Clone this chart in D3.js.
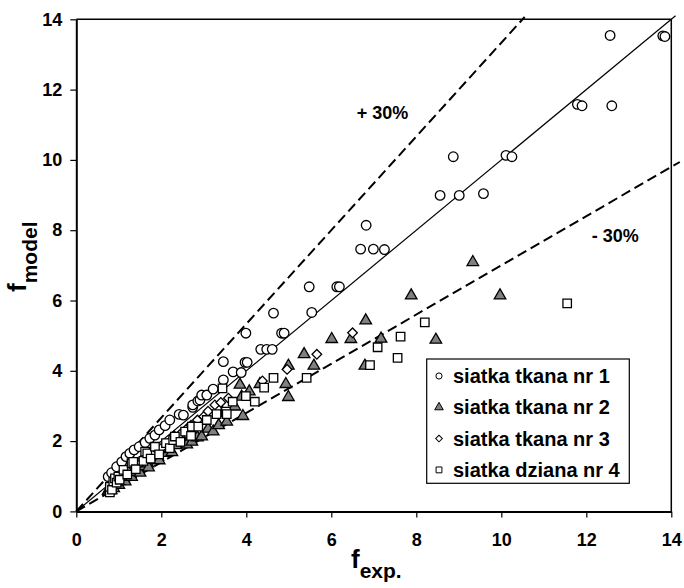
<!DOCTYPE html>
<html>
<head>
<meta charset="utf-8">
<script src="https://cdn.jsdelivr.net/npm/d3@7/dist/d3.min.js"></script>
<style>
  html, body { margin: 0; padding: 0; background: #fff; }
  svg { display: block; font-family: "Liberation Sans", Arial, sans-serif; font-weight: bold; }
</style>
</head>
<body>
<svg id="chart" width="684" height="588"></svg>
<script>
// Measured friction factor: experiment (x) vs. model (y), four mesh types
const tkana1 = [
  [0.75,0.99],[0.83,1.10],[0.95,1.27],[1.07,1.41],[1.17,1.56],[1.26,1.65],[1.36,1.75],
  [1.48,1.84],[1.62,1.96],[1.73,2.08],[1.85,2.17],[1.95,2.32],[2.09,2.44],[2.20,2.60],
  [2.42,2.76],[2.52,2.74],[2.74,2.96],[2.74,3.03],[2.86,3.14],[2.91,3.17],[2.95,3.31],
  [3.07,3.31],[3.22,3.48],[3.46,3.74],[3.46,4.26],[3.69,3.97],[3.88,3.95],[3.97,4.24],
  [4.02,4.24],[3.99,5.07],[4.34,4.61],[4.48,4.61],[4.61,4.61],[4.64,5.64],[4.83,5.07],
  [4.89,5.07],[5.48,6.39],[5.54,5.66],[6.13,6.39],[6.19,6.39],[6.69,7.46],[6.82,8.14],
  [6.99,7.46],[7.25,7.45],[8.56,8.99],[8.87,10.09],[9.01,8.99],[9.58,9.04],[10.11,10.13],
  [10.25,10.09],[11.79,11.58],[11.90,11.54],[12.56,13.54],[12.60,11.54],[13.80,13.53],[13.85,13.51]
];
const tkana2 = [
  [0.75,0.58],[0.78,0.63],[0.80,0.68],[0.82,0.60],[0.85,0.72],[0.88,0.66],[0.90,0.76],
  [0.95,0.80],[1.00,0.75],[1.02,0.86],[1.10,0.92],[1.15,0.85],[1.18,0.98],[1.27,1.05],
  [1.30,0.98],[1.36,1.12],[1.46,1.20],[1.50,1.10],[1.56,1.28],[1.68,1.36],[1.70,1.25],
  [1.80,1.46],[1.92,1.55],[1.95,1.45],[2.06,1.66],[2.20,1.77],[2.25,1.68],[2.35,1.88],
  [2.52,2.00],[2.60,1.90],[2.72,1.98],[2.85,2.10],[2.95,2.13],[3.10,2.35],[3.22,2.27],
  [3.35,2.45],[3.44,2.79],[3.54,2.55],[3.73,2.98],[3.85,3.60],[3.89,3.26],[3.92,2.71],
  [4.07,3.41],[4.32,3.62],[4.93,3.62],[4.99,3.25],[4.99,4.14],[5.36,4.47],[5.59,4.14],
  [6.01,4.90],[6.46,4.90],[6.79,4.14],[6.81,5.43],[7.17,4.91],[7.88,6.14],[8.46,4.88],
  [9.33,7.09],[9.97,6.14]
];
const tkana3 = [
  [0.80,0.75],[0.90,0.85],[1.00,0.95],[1.10,1.05],[1.20,1.12],[1.25,1.20],[1.35,1.25],
  [1.50,1.38],[1.55,1.48],[1.65,1.50],[1.80,1.62],[1.90,1.75],[2.00,1.80],[2.20,1.98],
  [2.30,2.15],[2.45,2.20],[2.60,2.35],[2.70,2.45],[2.85,2.60],[3.00,2.70],[3.10,2.85],
  [3.26,3.03],[3.40,3.10],[3.58,3.22],[4.38,3.71],[4.96,4.04],[5.66,4.47],[6.50,5.08]
];
const dziana4 = [
  [0.79,0.54],[0.79,0.70],[0.84,0.62],[0.87,0.85],[0.91,0.94],[0.95,0.82],[0.99,0.99],
  [1.02,0.90],[1.11,1.18],[1.20,1.05],[1.30,1.37],[1.34,1.41],[1.40,1.20],[1.58,1.44],
  [1.62,1.70],[1.67,1.65],[1.75,1.50],[1.85,1.84],[1.95,1.62],[2.11,1.94],[2.20,1.80],
  [2.28,2.03],[2.32,2.13],[2.45,1.98],[2.56,2.27],[2.70,2.15],[2.72,2.41],[2.87,2.41],
  [3.07,2.60],[3.30,2.77],[3.44,3.50],[3.52,2.84],[3.54,2.77],[3.68,3.12],[3.99,3.28],
  [4.20,3.12],[4.42,3.52],[4.64,3.80],[5.42,3.80],[6.91,4.16],[7.09,4.67],[7.56,4.37],
  [7.63,4.97],[8.20,5.38],[11.55,5.92]
];

const seriesNames = ["siatka tkana nr 1", "siatka tkana nr 2", "siatka tkana nr 3", "siatka dziana nr 4"];
const xTicks = [0, 2, 4, 6, 8, 10, 12, 14];
const yTicks = [0, 2, 4, 6, 8, 10, 12, 14];
// reference lines: y = x, +30% and -30% bands
const lineFactors = [1, 1 / 0.75, 0.7];
const lineEnds = [14.1, 10.55, 14.2];
const bandLabels = ["+ 30%", "- 30%"];
const bandLabelPos = [[6.6, 11.33], [12.13, 7.83]];

const svg = d3.select("#chart");
const x = d3.scaleLinear().domain([0, 14]).range([76.3, 671.3]);
const y = d3.scaleLinear().domain([0, 14]).range([511.4, 19.3]);

// plot frame: top and right borders
svg.append("line").attr("x1", x(0)).attr("x2", x(14)).attr("y1", y(14)).attr("y2", y(14))
  .attr("stroke", "#000").attr("stroke-width", 1.5);
svg.append("line").attr("x1", x(14)).attr("x2", x(14)).attr("y1", y(14)).attr("y2", y(0))
  .attr("stroke", "#000").attr("stroke-width", 1.5);

// reference lines
lineFactors.forEach((k, i) => {
  svg.append("line")
    .attr("x1", x(0)).attr("y1", y(0))
    .attr("x2", x(lineEnds[i])).attr("y2", y(k * lineEnds[i]))
    .attr("stroke", "#000")
    .attr("stroke-width", i === 0 ? 1.2 : 2)
    .attr("stroke-dasharray", i === 0 ? null : "10,5");
});

bandLabels.forEach((t, i) => {
  svg.append("text").attr("x", x(bandLabelPos[i][0])).attr("y", y(bandLabelPos[i][1]))
    .attr("font-size", 18).attr("dominant-baseline", "central").text(t);
});

// marker shapes (diamond = square turned 45 degrees)
const sym = {
  circle: { gen: d3.symbol().type(d3.symbolCircle).size(72), rot: 0 },
  triangle: { gen: d3.symbol().type(d3.symbolTriangle).size(58), rot: 0 },
  diamond: { gen: d3.symbol().type(d3.symbolSquare).size(46), rot: 45 },
  square: { gen: d3.symbol().type(d3.symbolSquare).size(72), rot: 0 }
};
const styles = [
  { data: tkana1, shape: "circle", fill: "#fff" },
  { data: tkana2, shape: "triangle", fill: "#808080" },
  { data: tkana3, shape: "diamond", fill: "#fff" },
  { data: dziana4, shape: "square", fill: "#fff" }
];

styles.forEach(s => {
  const m = sym[s.shape];
  svg.append("g").selectAll("path").data(s.data).join("path")
    .attr("d", m.gen())
    .attr("transform", d => `translate(${x(d[0])},${y(d[1])}) rotate(${m.rot})`)
    .attr("fill", s.fill).attr("stroke", "#000").attr("stroke-width", 1.3);
});

// axes
const xAxis = svg.append("g").attr("transform", `translate(0,${y(0)})`)
  .call(d3.axisBottom(x).tickValues(xTicks).tickSize(6).tickSizeOuter(0).tickPadding(16));
const yAxis = svg.append("g").attr("transform", `translate(${x(0)},0)`)
  .call(d3.axisLeft(y).tickValues(yTicks).tickSize(6).tickSizeOuter(0).tickPadding(8));
[xAxis, yAxis].forEach(a => {
  a.select(".domain").attr("stroke-width", 2);
  a.selectAll(".tick line").attr("stroke-width", 1.2);
  a.selectAll("text").attr("font-size", 18).attr("font-family", "'Liberation Sans', Arial, sans-serif")
    .attr("font-weight", "bold").attr("fill", "#000");
});

// axis titles
const xt = svg.append("text").attr("x", 351).attr("y", 568);
xt.append("tspan").attr("font-size", 26).text("f");
xt.append("tspan").attr("font-size", 21).attr("dy", 10).text("exp.");

const yt = svg.append("text").attr("transform", "translate(26,292) rotate(-90)");
yt.append("tspan").attr("font-size", 26).text("f");
yt.append("tspan").attr("font-size", 21).attr("dy", 11).text("model");

// legend
const lg = svg.append("g");
lg.append("rect").attr("x", 426.7).attr("y", 359).attr("width", 202.6).attr("height", 124.3)
  .attr("fill", "#fff").attr("stroke", "#000").attr("stroke-width", 1.2);
const legSym = {
  circle: { gen: d3.symbol().type(d3.symbolCircle).size(30), rot: 0 },
  triangle: { gen: d3.symbol().type(d3.symbolTriangle).size(32), rot: 0 },
  diamond: { gen: d3.symbol().type(d3.symbolSquare).size(22), rot: 45 },
  square: { gen: d3.symbol().type(d3.symbolSquare).size(34), rot: 0 }
};
seriesNames.forEach((name, i) => {
  const cy = 376 + i * 31.3;
  const m = legSym[styles[i].shape];
  lg.append("path").attr("d", m.gen())
    .attr("transform", `translate(439,${cy}) rotate(${m.rot})`)
    .attr("fill", styles[i].fill).attr("stroke", "#000").attr("stroke-width", 1);
  lg.append("text").attr("x", 453).attr("y", cy).attr("dominant-baseline", "central")
    .attr("font-size", 20).text(name);
});
</script>
</body>
</html>
